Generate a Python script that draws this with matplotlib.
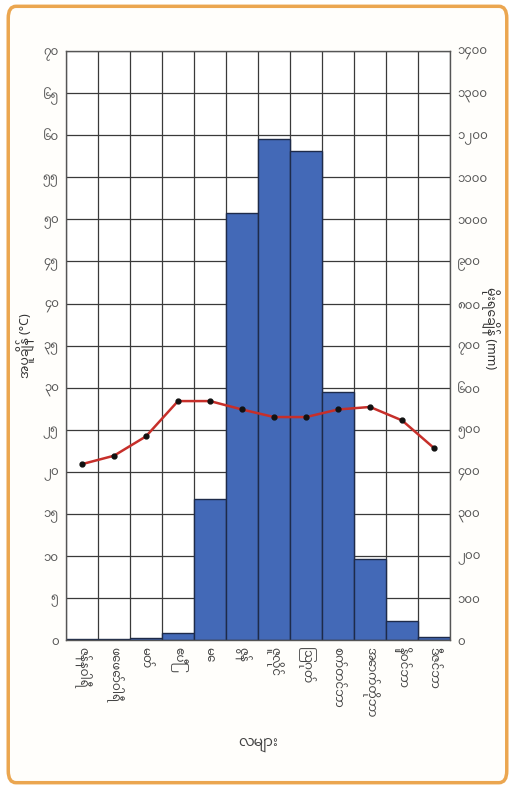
import matplotlib
matplotlib.use("Agg")
import matplotlib.pyplot as plt
from matplotlib import font_manager
from matplotlib.patches import FancyBboxPatch

months = ["ဇန်နဝါရီ", "ဖေဖော်ဝါရီ", "မတ်", "ဧပြီ", "မေ", "ဇွန်",
          "ဇူလိုင်", "ဩဂုတ်", "စက်တင်ဘာ", "အောက်တိုဘာ", "နိုဝင်ဘာ", "ဒီဇင်ဘာ"]
rain_mm = [1, 1, 5, 17, 335, 1015, 1191, 1162, 589, 193, 46, 6]
temp_c = [20.9, 21.9, 24.2, 28.4, 28.4, 27.4, 26.5, 26.5, 27.4, 27.7, 26.1, 22.8]
temp_ticks = list(range(0, 75, 5))
rain_ticks = list(range(0, 1500, 100))

# pick whatever installed font can draw Myanmar, fall back to DejaVu
names = {f.name for f in font_manager.fontManager.ttflist}
fams = [n for n in ["Noto Sans Myanmar", "Padauk", "Myanmar Text", "Noto Serif Myanmar"] if n in names]
plt.rcParams['font.family'] = fams + ['DejaVu Sans']

mm = str.maketrans("0123456789", "၀၁၂၃၄၅၆၇၈၉")
def my(n):
    return str(n).translate(mm)

fig = plt.figure(figsize=(5.15, 7.89), dpi=100)
fig.patch.set_facecolor('white')
frame = FancyBboxPatch((0.016, 0.008), 0.968, 0.984, boxstyle="round,pad=0,rounding_size=0.015",
                       transform=fig.transFigure, facecolor='#FFFEFB', edgecolor='#EBA650',
                       linewidth=2.5, zorder=-10)
fig.patches.append(frame)

ax = fig.add_axes([0.128, 0.189, 0.746, 0.746])
ax.set_facecolor('white')
axt = ax.twinx()
x = list(range(len(months)))

# rainfall bars (right scale)
ax.bar(x, rain_mm, width=1.0, color='#4369B7', edgecolor='#1E2B4A', linewidth=1.0, zorder=2)
ax.set_xlim(-0.5, 11.5)
ax.set_ylim(0, 1400)
ax.set_yticks(rain_ticks)
ax.set_yticklabels([my(v) for v in rain_ticks], fontsize=8.5, color='#555555')
ax.yaxis.tick_right()
ax.yaxis.set_label_position('right')
ax.set_ylabel("မိုးရေချိန် (mm)", fontsize=9, color='#333333', rotation=270)
ax.yaxis.set_label_coords(1.13, 0.53)
ax.set_xticks(x)
ax.set_xticklabels(months, rotation=270, fontsize=8.5, color='#444444')
ax.set_xticks([i + 0.5 for i in range(-1, 12)], minor=True)
ax.tick_params(axis='both', which='both', length=0, pad=5)
ax.grid(True, which='major', axis='y', color='#3a3a3a', linewidth=0.9, zorder=0)
ax.grid(True, which='minor', axis='x', color='#3a3a3a', linewidth=0.9, zorder=0)
ax.set_axisbelow(True)
ax.set_xlabel("လများ", fontsize=10, color='#444444', labelpad=14)
for s in ax.spines.values():
    s.set_color('#555555')
    s.set_linewidth(1.0)

# temperature line (left scale)
axt.plot(x, temp_c, color='#C62F2A', linewidth=1.8, marker='o', markersize=3.5,
         markerfacecolor='#111111', markeredgecolor='#111111', zorder=5)
axt.set_ylim(0, 70)
axt.set_yticks(temp_ticks)
axt.set_yticklabels([my(v) for v in temp_ticks], fontsize=8.5, color='#555555')
axt.yaxis.tick_left()
axt.yaxis.set_label_position('left')
axt.set_ylabel("အပူချိန် (°C)", fontsize=9, color='#333333')
axt.yaxis.set_label_coords(-0.08, 0.5)
axt.tick_params(axis='both', length=0, pad=5)
for s in axt.spines.values():
    s.set_visible(False)

fig.savefig("out.png", dpi=100)
